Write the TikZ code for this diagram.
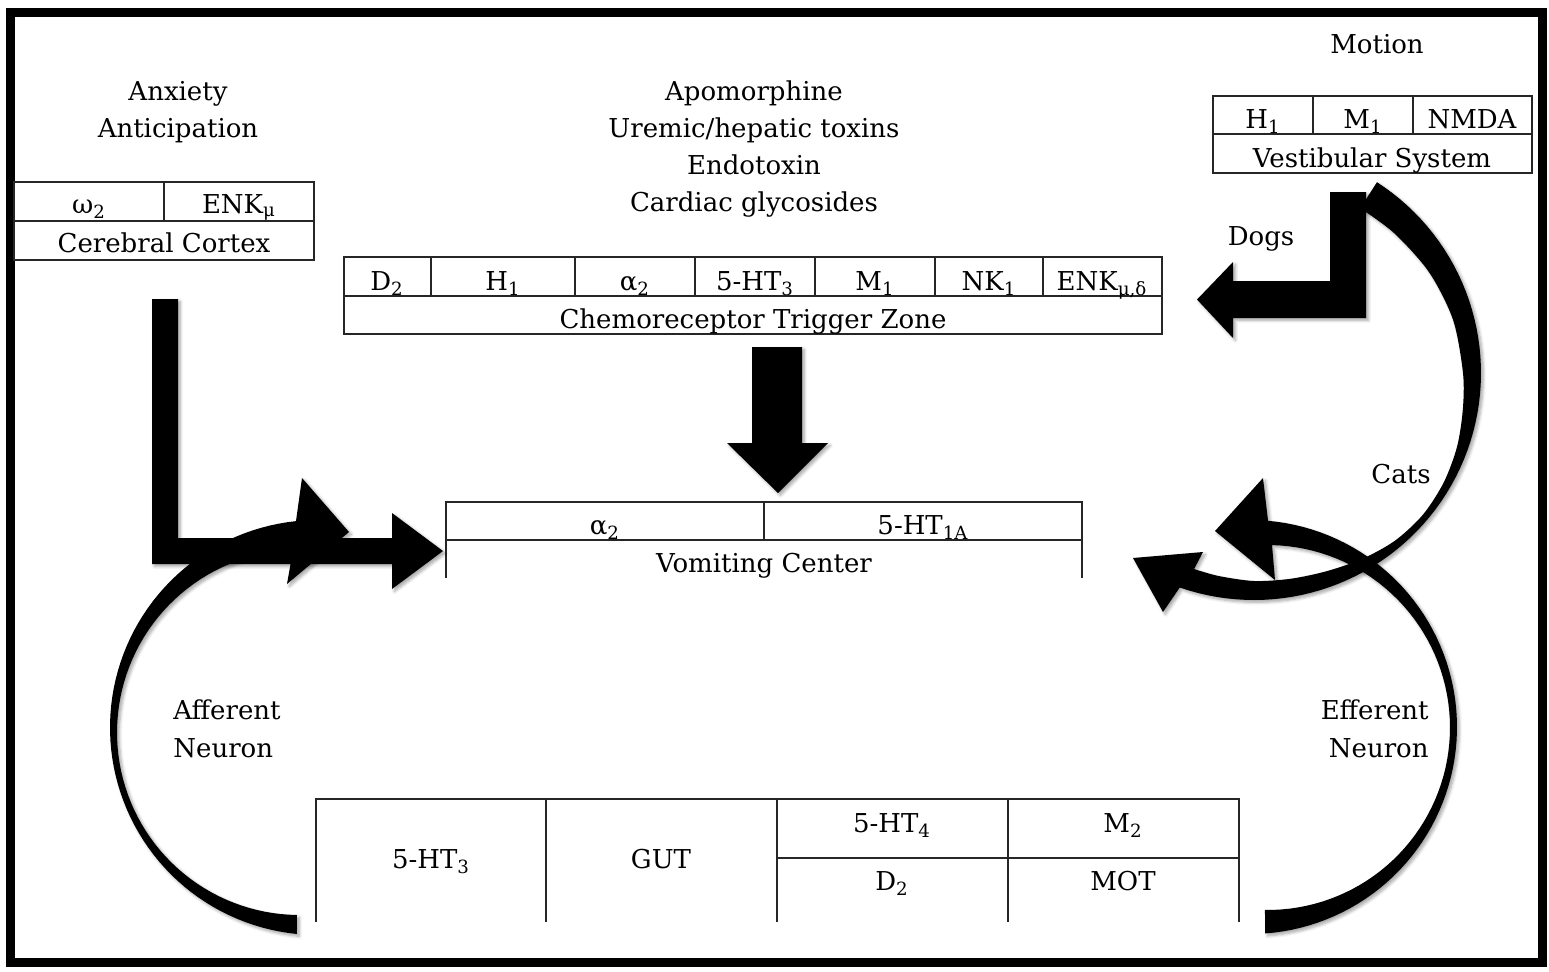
\documentclass[tikz,border=0pt]{standalone}
\usepackage{fontspec}
\setmainfont{DejaVu Serif}
\usetikzlibrary{shadows.blur}
\begin{document}
\begin{tikzpicture}[x=0.5pt, y=-0.5pt,
  txt/.style={font=\fontsize{13}{18.5}\selectfont, inner sep=0pt, anchor=base},
  box/.style={line width=0.7pt, draw=black!85},
  blk/.style={fill=black, blur shadow={shadow xshift=1.2pt, shadow yshift=-1.2pt, shadow opacity=35, shadow blur steps=5, shadow blur radius=1.5pt}},
  frame/.style={line width=4.5pt, draw=black}]
\useasboundingbox (0,0) rectangle (1549,971);
\draw[frame] (10,12) rectangle (1542,962);

% ---------- tables ----------
% Cerebral cortex
\draw[box] (14,182) rectangle (314,260) (14,221) -- (314,221) (164,182) -- (164,221);
% Chemoreceptor trigger zone
\draw[box] (344,257) rectangle (1162,334) (344,296) -- (1162,296)
  (431,257) -- (431,296) (575,257) -- (575,296) (695,257) -- (695,296)
  (815,257) -- (815,296) (935,257) -- (935,296) (1043,257) -- (1043,296);
% Vestibular system
\draw[box] (1213,96) rectangle (1532,173) (1213,134) -- (1532,134)
  (1313,96) -- (1313,134) (1413,96) -- (1413,134);
% Vomiting center (open at the bottom)
\draw[box] (446,578) -- (446,502) -- (1082,502) -- (1082,578)
  (446,540) -- (1082,540) (764,502) -- (764,540);
% Gut (open at the bottom)
\draw[box] (316,922) -- (316,799) -- (1239,799) -- (1239,922)
  (546,799) -- (546,922) (777,799) -- (777,922) (1008,799) -- (1008,922)
  (777,858) -- (1239,858);

% ---------- texts ----------
\node[txt] (motion) at (1377,53) {Motion};
\node[txt] (anx) at (178,100) {Anxiety};
\node[txt] (antic) at (178,137) {Anticipation};
\node[txt] (apo) at (754,100) {Apomorphine};
\node[txt] (urem) at (754,137) {Uremic/hepatic toxins};
\node[txt] (endo) at (754,174) {Endotoxin};
\node[txt] (card) at (754,211) {Cardiac glycosides};

\node[txt] (ccw) at (89,213) {ω\textsubscript{2}};
\node[txt] (ccenk) at (239,213) {ENK\textsubscript{μ}};
\node[txt] (cc) at (164,252) {Cerebral Cortex};

\node[txt] (vsh) at (1263,128) {H\textsubscript{1}};
\node[txt] (vsm) at (1363,128) {M\textsubscript{1}};
\node[txt] (vsn) at (1472,128) {NMDA};
\node[txt] (vs) at (1372,167) {Vestibular System};

\node[txt] (ctzd) at (387,290) {D\textsubscript{2}};
\node[txt] (ctzh) at (503,290) {H\textsubscript{1}};
\node[txt] (ctza) at (635,290) {α\textsubscript{2}};
\node[txt] (ctz5) at (755,290) {5-HT\textsubscript{3}};
\node[txt] (ctzm) at (875,290) {M\textsubscript{1}};
\node[txt] (ctzn) at (989,290) {NK\textsubscript{1}};
\node[txt] (ctze) at (1102,290) {ENK\textsubscript{μ,δ}};
\node[txt] (ctz) at (753,328) {Chemoreceptor Trigger Zone};

\node[txt] (vca) at (605,534) {α\textsubscript{2}};
\node[txt] (vc5) at (923,534) {5-HT\textsubscript{1A}};
\node[txt] (vc) at (764,572) {Vomiting Center};

\node[txt] (g5) at (431,868) {5-HT\textsubscript{3}};
\node[txt] (gut) at (661,868) {GUT};
\node[txt] (g54) at (892,832) {5-HT\textsubscript{4}};
\node[txt] (gm) at (1123,832) {M\textsubscript{2}};
\node[txt] (gd) at (892,890) {D\textsubscript{2}};
\node[txt] (mot) at (1123,890) {MOT};

\node[txt] (dogs) at (1261,245) {Dogs};
\node[txt] (cats) at (1401,483) {Cats};
\node[txt, anchor=base west] (aff1) at (173,719) {Afferent};
\node[txt, anchor=base west] (aff2) at (173,757) {Neuron};
\node[txt, anchor=base east] (eff1) at (1429,719) {Efferent};
\node[txt, anchor=base east] (eff2) at (1429,757) {Neuron};

% ---------- arrows ----------
% cerebral cortex -> vomiting center
\fill[blk] (152,299) -- (178,299) -- (178,538) -- (392,538) -- (392,513) -- (443,551)
  -- (392,589) -- (392,564) -- (152,564) -- cycle;
% CTZ -> vomiting center
\fill[blk] (752,347) -- (802,347) -- (802,443) -- (828,443) -- (778,493) -- (727,443)
  -- (752,443) -- cycle;
% vestibular -> vomiting center (cats)
\fill[blk] plot[domain=-57.2:109.1, samples=70, variable=\t] ({1254+227*cos(\t)}, {373+227*sin(\t)})
  -- (1163,612) -- (1133,558) -- (1203,552) -- (1194.1,569)
  -- plot[smooth] coordinates {(1194.1,569) (1218.2,575.9) (1254,581) (1290.3,578.8)
     (1326.2,571.3) (1361.5,559.2) (1394.8,540.8) (1422.9,514.7) (1443.7,482.5)
     (1457,446.9) (1462.8,409.8) (1463,373) (1453,319.7) (1428.9,272) (1394,233) (1360.2,208.2)}
  -- cycle;
% vestibular -> CTZ (dogs)
\fill[blk] (1330,192) -- (1366,192) -- (1366,318) -- (1233,318) -- (1233,338) -- (1197,299.5)
  -- (1233,262) -- (1233,281) -- (1330,281) -- cycle;
% efferent neuron
\fill[blk] plot[domain=85.8:-85, samples=70, variable=\t] ({1250+207*cos(\t)}, {727+207*sin(\t)})
  -- (1263,478) -- (1215,531) -- (1275,580) -- (1272,545)
  -- plot[domain=-88.6:90.8, samples=70, variable=\t] ({1267.5+182.5*cos(\t)}, {727.5+182.5*sin(\t)})
  -- cycle;
% afferent neuron
\fill[blk] plot[domain=95.7:264.05, samples=70, variable=\t] ({317.5+207.5*cos(\t)}, {727.5+207.5*sin(\t)})
  -- (302,478) -- (349,532) -- (287,584) -- (293,550)
  -- plot[domain=267.96:90.8, samples=70, variable=\t] ({299.5+182.5*cos(\t)}, {732.5+182.5*sin(\t)})
  -- cycle;
\end{tikzpicture}
\end{document}
